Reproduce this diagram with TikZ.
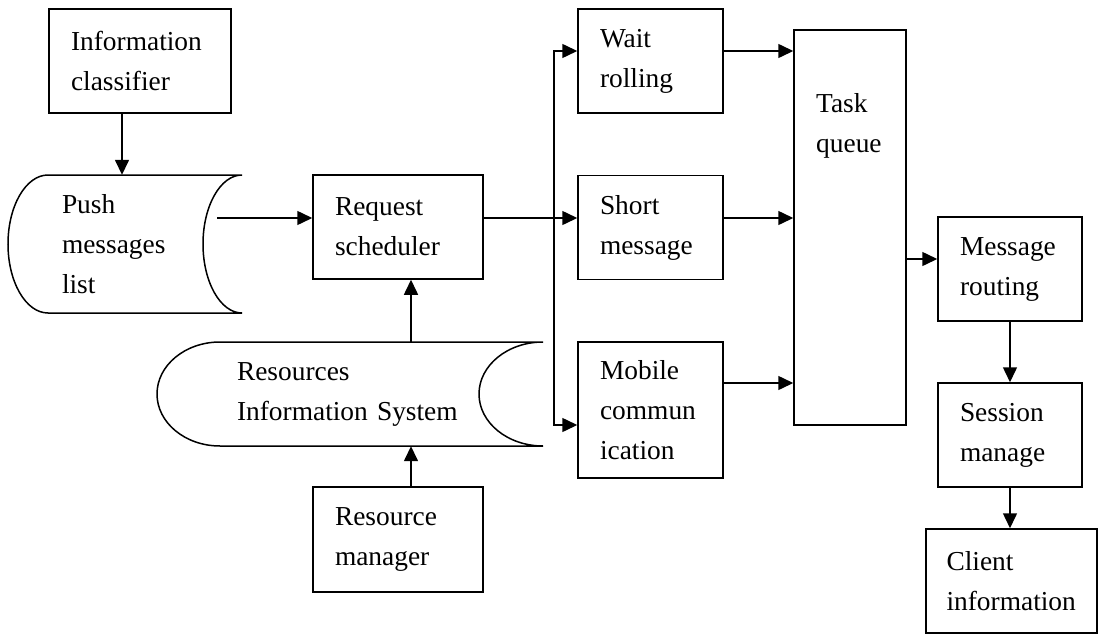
\documentclass[tikz,border=0pt]{standalone}
\usepackage{fontspec}
\setmainfont{Liberation Serif}
\usetikzlibrary{arrows.meta}
\begin{document}
\begin{tikzpicture}[x=1pt, y=-1pt,
		box/.style={draw, line width=1.5pt, align=left, inner xsep=22pt, inner ysep=0pt, minimum height=104pt, font=\fontsize{27.4}{40}\selectfont},
		store/.style={inner ysep=0pt, align=left, font=\fontsize{27.4}{40}\selectfont},
		arr/.style={line width=1.5pt, -{Triangle[length=15pt, width=14pt]}}]
		\useasboundingbox (0,0) rectangle (1098,634);
		% left column
		\node[box, text width=138pt] (info) at (140,61) {Information\\classifier};
		\node[store, inner xsep=54pt, text width=126pt, minimum height=138pt] (push) at (125,244) {Push\\messages\\list};
		\draw[line width=1.5pt] (48,175) -- (242,175) .. controls (220.5,175) and (203,205.9) .. (203,244) .. controls (203,282.1) and (220.5,313) .. (242,313) -- (48,313) .. controls (25.9,313) and (8,282.1) .. (8,244) .. controls (8,205.9) and (25.9,175) .. (48,175) -- cycle;
		\node[box, text width=126pt] (req) at (398,227) {Request\\scheduler};
		\node[store, inner xsep=80pt, text width=226pt, minimum height=104pt] (ris) at (350,394) {Resources\\Information System};
		\draw[line width=1.5pt] (220,342) -- (543,342) .. controls (507.7,342) and (479,365.3) .. (479,394) .. controls (479,422.7) and (507.7,446) .. (543,446) -- (220,446) .. controls (185.2,446) and (157,422.7) .. (157,394) .. controls (157,365.3) and (185.2,342) .. (220,342) -- cycle;
		\node[box, text width=126pt, minimum height=105pt] (resmgr) at (398,539.5) {Resource\\manager};
		% middle column
		\node[box, text width=101pt] (wait) at (650.5,61) {Wait\\rolling};
		\node[box, text width=101pt] (short) at (650.5,227.5) {Short\\message};
		\node[box, text width=101pt, minimum height=136pt] (mobile) at (650.5,410) {Mobile\\commun\\ication};
		\node[box, minimum width=112pt, minimum height=395pt] (queue) at (850,227.5) {};
		\node[anchor=north west, inner sep=0pt, align=left, font=\fontsize{27.4}{40}\selectfont] (queuetext) at (816,93) {Task\\queue};
		% right column
		\node[box, text width=100pt] (route) at (1010,269) {Message\\routing};
		\node[box, text width=100pt] (session) at (1010,435) {Session\\manage};
		\node[box, inner xsep=20.5pt, text width=130pt] (client) at (1011.5,581) {Client\\information};
		% arrows
		\coordinate (pushout) at (217,218);
		\coordinate (bus) at (554,218);
		\draw[arr] ([xshift=-18pt]info.south) -- ([xshift=-18pt]info.south |- push.north);
		\draw[arr] (pushout) -- (pushout -| req.west);
		\draw[arr] ([yshift=9pt]req.east) -- ([yshift=9pt]req.east -| short.west);
		\draw[arr] (bus) |- ([yshift=10pt]wait.west);
		\draw[arr] (bus) |- ([yshift=-15pt]mobile.west);
		\draw[arr] ([yshift=10pt]wait.east) -- ([yshift=10pt]wait.east -| queue.west);
		\draw[arr] ([yshift=9.5pt]short.east) -- ([yshift=9.5pt]short.east -| queue.west);
		\draw[arr] ([yshift=27pt]mobile.east) -- ([yshift=27pt]mobile.east -| queue.west);
		\draw[arr] ([yshift=10pt]route.west -| queue.east) -- ([yshift=10pt]route.west);
		\draw[arr] (route.south) -- (session.north);
		\draw[arr] (session.south) -- (session.south |- client.north);
		\draw[arr] ([xshift=13pt]req.south |- ris.north) -- ([xshift=13pt]req.south);
		\draw[arr] ([xshift=13pt]resmgr.north) -- ([xshift=13pt]resmgr.north |- ris.south);
	\end{tikzpicture}
\end{document}
